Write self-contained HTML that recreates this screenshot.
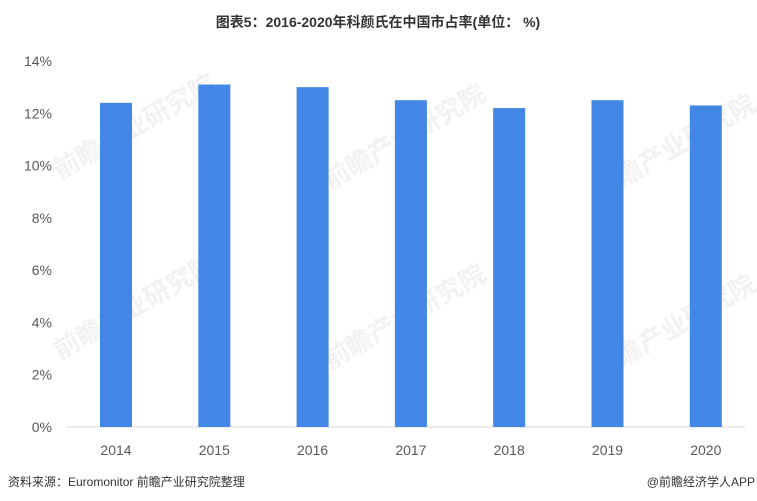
<!DOCTYPE html>
<html><head><meta charset="utf-8"><style>
body{margin:0;background:#fff;}
#c{position:relative;width:757px;height:501px;font-family:"Liberation Sans","Noto Sans CJK SC",sans-serif;overflow:hidden;}
</style></head><body>
<div id="c">
<svg id="s" width="757" height="501" xmlns="http://www.w3.org/2000/svg">
<text x="378" y="27" text-anchor="middle" font-size="14" font-weight="bold" fill="#333" font-family="Liberation Sans, Noto Sans CJK SC, sans-serif">图表5：2016-2020年科颜氏在中国市占率(单位： %)</text>
<g id="wm" fill="#f2f2f2" font-size="26" font-weight="bold" font-family="Noto Sans CJK SC, sans-serif">
<text x="60" y="180" transform="rotate(-30 60 180)">前瞻产业研究院</text>
<text x="330" y="190" transform="rotate(-30 330 190)">前瞻产业研究院</text>
<text x="600" y="200" transform="rotate(-30 600 200)">前瞻产业研究院</text>
<text x="60" y="360" transform="rotate(-30 60 360)">前瞻产业研究院</text>
<text x="330" y="370" transform="rotate(-30 330 370)">前瞻产业研究院</text>
<text x="600" y="380" transform="rotate(-30 600 380)">前瞻产业研究院</text>
</g>
<line x1="67" y1="427" x2="745" y2="427" stroke="#d9d9d9" stroke-width="1"/>
<g id="bars"></g><g id="yt"></g><g id="xt"></g>
<text x="8" y="486" font-size="12" fill="#333" font-family="Liberation Sans, Noto Sans CJK SC, sans-serif">资料来源：Euromonitor 前瞻产业研究院整理</text>
<text x="755" y="486" text-anchor="end" font-size="12" fill="#333" font-family="Liberation Sans, Noto Sans CJK SC, sans-serif">@前瞻经济学人APP</text>
</svg>
</div>
<script>
const categories=["2014","2015","2016","2017","2018","2019","2020"];
const values=[12.4,13.1,13.0,12.5,12.2,12.5,12.3];
const yTicks=[0,2,4,6,8,10,12,14];
const NS="http://www.w3.org/2000/svg";
const y0=427,yTop=61,yMax=14;
function y(v){return y0-(v/yMax)*(y0-yTop);}
function xc(i){return 116+i*98.3;}
const bars=document.getElementById('bars'),yt=document.getElementById('yt'),xt=document.getElementById('xt');
values.forEach((v,i)=>{
 const r=document.createElementNS(NS,'rect');
 r.setAttribute('x',xc(i)-16);r.setAttribute('y',y(v));r.setAttribute('width',32);r.setAttribute('height',y0-y(v));r.setAttribute('fill','#4287e6');
 
 
 bars.appendChild(r);
 const t=document.createElementNS(NS,'text');
 t.setAttribute('x',xc(i));t.setAttribute('y',455);t.setAttribute('text-anchor','middle');t.setAttribute('font-size','14');t.setAttribute('fill','#595959');
 t.textContent=categories[i];
 
 
 xt.appendChild(t);
});
yTicks.forEach(v=>{
 const t=document.createElementNS(NS,'text');
 t.setAttribute('x',52);t.setAttribute('y',y(v)+5);t.setAttribute('text-anchor','end');t.setAttribute('font-size','14');t.setAttribute('fill','#595959');
 t.textContent=v+'%';
 
 
 yt.appendChild(t);
});
</script>
</body></html>
